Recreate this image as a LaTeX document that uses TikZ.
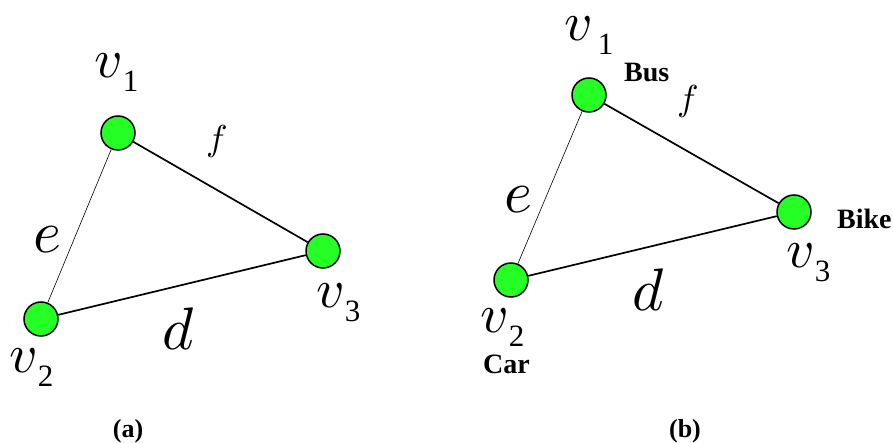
\documentclass[tikz,border=0pt]{standalone}
\usepackage{fontspec}
\setmainfont{Liberation Serif}
\DeclareFontShape{OML}{cmm}{m}{it}{<->cmmi10}{}
\definecolor{vgreen}{RGB}{38,255,38}
\tikzset{
  vertex/.style={circle,draw=black,fill=vgreen,line width=1.5pt,minimum size=34pt,inner sep=0pt},
  edge/.style={line width=1.7pt},
  thinedge/.style={line width=0.6pt},
  lab/.style={inner sep=0pt,anchor=base west},
  caption/.style={inner sep=0pt,anchor=base,font=\fontsize{26}{26}\selectfont\bfseries},
  mode/.style={inner sep=0pt,anchor=base west,font=\fontsize{28}{28}\selectfont\bfseries},
}
\newcommand{\vname}[1]{{\fontsize{55}{55}\selectfont$v$}\raisebox{-14pt}{\fontsize{31}{31}\selectfont #1}}
\newcommand{\ename}[1]{{\fontsize{60}{60}\selectfont$#1$}}
\newcommand{\fname}{{\fontsize{36}{36}\selectfont$f$}}
\begin{document}
\begin{tikzpicture}[x=1pt,y=-1pt]
\useasboundingbox (0,0) rectangle (893,443);
% (a)
\node[vertex] (a1) at (118,133) {};
\node[vertex] (a2) at (41,319) {};
\node[vertex] (a3) at (323,251) {};
\draw[thinedge] (a1) -- (a2);
\draw[edge] (a1) -- (a3);
\draw[edge] (a2) -- (a3);
\node[lab] (a1name) at (94,78) {\vname{1}};
\node[lab] (a2name) at (9,372) {\vname{2}};
\node[lab] (a3name) at (316,307) {\vname{3}};
\node[lab] (ae) at (33,253) {\ename{e}};
\node[lab] (ad) at (162,349) {\ename{d}};
\node[lab] (af) at (206,151) {\fname};
\node[caption] (acap) at (128,437) {(a)};
% (b)
\node[vertex] (b1) at (589,95) {};
\node[vertex] (b2) at (511,280) {};
\node[vertex] (b3) at (794,212) {};
\draw[thinedge] (b1) -- (b2);
\draw[edge] (b1) -- (b3);
\draw[edge] (b2) -- (b3);
\node[lab] (b1name) at (564,41) {\vname{\hspace{5pt}1}};
\node[lab] (b2name) at (480,332) {\vname{2}};
\node[lab] (b3name) at (786,268) {\vname{3}};
\node[lab] (be) at (504,213) {\ename{e}};
\node[lab] (bd) at (632,310) {\ename{d}};
\node[lab] (bf) at (677,111) {\fname};
\node[mode] (bbus) at (624,82) {Bus};
\node[mode] (bbike) at (837,229) {Bike};
\node[mode] (bcar) at (483,373) {Car};
\node[caption] (bcap) at (685,437) {(b)};
\end{tikzpicture}
\end{document}
